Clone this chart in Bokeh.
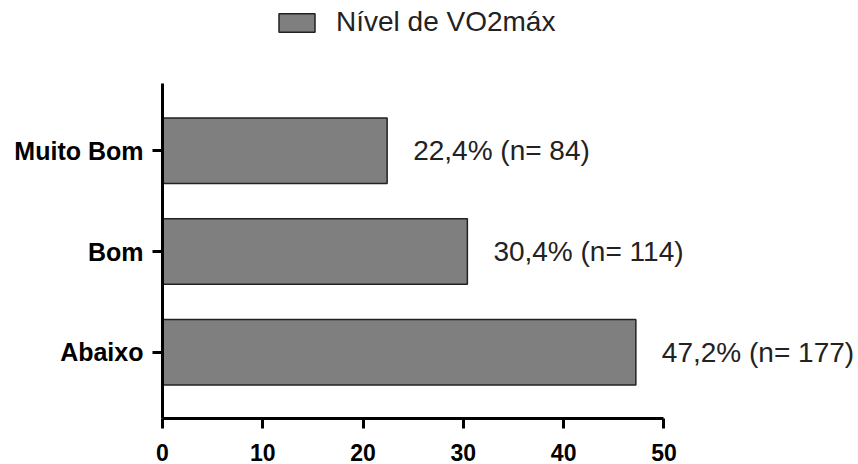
from bokeh.plotting import figure
from bokeh.models import Range1d, FixedTicker, Legend, LegendItem, ColumnDataSource
from bokeh.core.properties import value
from bokeh.embed import file_html
from bokeh.resources import INLINE

# ---- data ----
categories = ["Abaixo", "Bom", "Muito Bom"]
percent = [47.2, 30.4, 22.4]
counts = [177, 114, 84]
x_ticks = [0, 10, 20, 30, 40, 50]
series_name = "Nível de VO2máx"

pos = list(range(len(categories)))
labels = [f"{v:.1f}".replace(".", ",") + f"% (n= {n})" for v, n in zip(percent, counts)]
src = ColumnDataSource(dict(y=pos, pct=percent, lab=labels))

p = figure(width=858, height=464, output_backend="svg", toolbar_location=None,
           y_range=Range1d(-0.658, 3.492),
           x_range=Range1d(0, 69.4),
           min_border_left=162, min_border_top=0, min_border_bottom=46, min_border_right=0)

bars = p.hbar(y="y", right="pct", left=0, height=0.65, source=src,
              fill_color="#7f7f7f", line_color="#222222", line_width=1.5)

p.text(x="pct", y="y", text="lab", source=src, x_offset=26,
       text_baseline="middle", text_align="left",
       text_font=value("Liberation Sans"), text_font_size="28px", text_color="#222222")

p.grid.visible = False
p.outline_line_color = None

xa = p.xaxis[0]
xa.ticker = FixedTicker(ticks=x_ticks)
xa.bounds = (0, 50)
ya = p.yaxis[0]
ya.ticker = FixedTicker(ticks=pos)
ya.major_label_overrides = {i: c for i, c in zip(pos, categories)}
ya.bounds = (-0.658, 2.671)
for ax in (xa, ya):
    ax.axis_line_width = 3
    ax.axis_line_color = "black"
    ax.major_tick_line_width = 3
    ax.major_tick_line_color = "black"
    ax.major_tick_out = 10
    ax.major_tick_in = 0
    ax.minor_tick_line_color = None
    ax.major_label_text_font = "Liberation Sans"
    ax.major_label_text_font_style = "bold"
    ax.major_label_text_color = "black"
xa.major_label_text_font_size = "23px"
xa.major_label_standoff = 15
ya.major_label_text_font_size = "25px"
ya.major_label_standoff = 9

legend = Legend(items=[LegendItem(label=series_name, renderers=[bars])],
                location=(112, 380), orientation="horizontal",
                glyph_width=45, glyph_height=23, label_standoff=17,
                label_text_font="Liberation Sans", label_text_font_size="28px",
                label_text_color="#222222", padding=0, margin=0, spacing=0,
                border_line_color=None, background_fill_alpha=0)
p.add_layout(legend, "center")

open("out.html", "w").write(file_html(p, INLINE))
